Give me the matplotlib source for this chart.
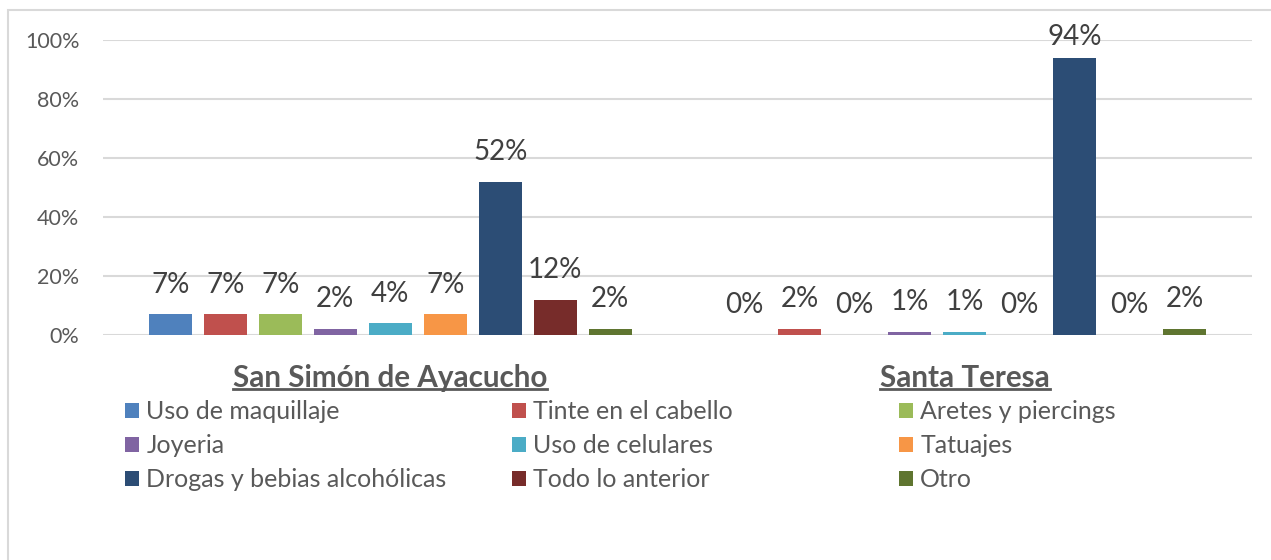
import matplotlib.pyplot as plt
import numpy as np
from matplotlib.patches import Rectangle
from matplotlib.lines import Line2D

plt.rcParams['font.family'] = ['Lato', 'DejaVu Sans']

# data
places = ['San Simón de Ayacucho', 'Santa Teresa']
items = ['Uso de maquillaje', 'Tinte en el cabello', 'Aretes y piercings',
         'Joyeria', 'Uso de celulares', 'Tatuajes',
         'Drogas y bebias alcohólicas', 'Todo lo anterior', 'Otro']
san_simon = [0.07, 0.07, 0.07, 0.02, 0.04, 0.07, 0.52, 0.12, 0.02]
santa_teresa = [0.00, 0.02, 0.00, 0.01, 0.01, 0.00, 0.94, 0.00, 0.02]
colors = ['#4F81BD', '#C0504D', '#9BBB59', '#8064A2', '#4BACC6',
          '#F79646', '#2C4D75', '#772C2A', '#5F7530']

W, H = 1271, 560
fig = plt.figure(figsize=(W / 100, H / 100), dpi=100)
ax = fig.add_axes([103 / W, (H - 335) / H, (1252 - 103) / W, 295 / H])

# outer chart border (runs off the right and bottom edge)
fig.patches.append(Rectangle((8 / W, -0.2), 1.3, 1.2 - 10 / H,
                             transform=fig.transFigure, fill=False,
                             edgecolor='#d9d9d9', linewidth=1.5))

step = 55 / 574.5
width = 43 / 574.5
x = np.arange(len(places))
bars = []
for j, name in enumerate(items):
    vals = [san_simon[j], santa_teresa[j]]
    b = ax.bar(x + (j - 4) * step, vals, width, color=colors[j], label=name, zorder=3)
    bars.append(b)
    for rect, v in zip(b, vals):
        off = 5.5 if v > 0.9 else 12  # label squeezed under the top edge
        ax.annotate(f'{round(v * 100):.0f}%', (rect.get_x() + rect.get_width() / 2, v),
                    xytext=(0, off), textcoords='offset points', ha='center', va='bottom',
                    fontsize=20, color='#404040')

ax.set_xlim(-0.5, 1.5)
ax.set_ylim(0, 1.0)
ax.set_yticks(np.arange(0, 1.01, 0.2))
ax.set_yticklabels([f'{int(round(t * 100))}%' for t in np.arange(0, 1.01, 0.2)])
ax.yaxis.grid(True, color='#d9d9d9', linewidth=1.5, zorder=0)
ax.set_axisbelow(True)
for s in ax.spines.values():
    s.set_visible(False)
ax.tick_params(axis='y', length=0, pad=17, labelsize=15.5, labelcolor='#595959')
ax.set_xticks(x)
ax.set_xticklabels(places, fontsize=21.3, fontweight='bold', color='#595959')
ax.tick_params(axis='x', length=0, pad=21)

# three legend columns, filled row by row like the original
for c in range(3):
    hs = [bars[r * 3 + c] for r in range(3)]
    ls = [items[r * 3 + c] for r in range(3)]
    fig.legend(hs, ls, loc='upper left',
               bbox_to_anchor=((125 + 387 * c) / W, (H - 400) / H),
               frameon=False, fontsize=18, labelcolor='#595959',
               handlelength=0.55, handleheight=0.55, handletextpad=0.3,
               labelspacing=0.44, borderpad=0, borderaxespad=0)

# underline the category labels
fig.canvas.draw()
r = fig.canvas.get_renderer()
for lab in ax.get_xticklabels():
    bb = lab.get_window_extent(r)
    yy = bb.y0 + 3
    fig.lines.append(Line2D([bb.x0 / W, bb.x1 / W], [yy / H, yy / H],
                            transform=fig.transFigure, color='#595959', linewidth=2))

fig.savefig('out.png', dpi=100)
